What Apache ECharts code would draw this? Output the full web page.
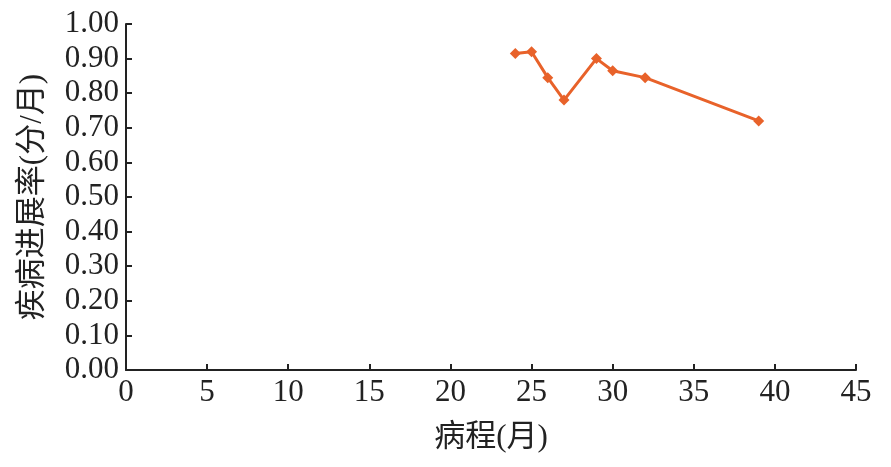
<!DOCTYPE html>
<html>
<head>
<meta charset="utf-8">
<script src="https://cdn.jsdelivr.net/npm/echarts@6/dist/echarts.min.js"></script>
<style>html,body{margin:0;padding:0;background:#fff}#c{width:891px;height:467px}</style>
</head>
<body>
<div id="c"></div>
<script>
const months = [24, 25, 26, 27, 29, 30, 32, 39];
const rates = [0.915, 0.92, 0.845, 0.78, 0.90, 0.865, 0.845, 0.72];
const xTitle = '病程(月)';
const yTitle = '疾病进展率(分/月)';
const FONT = "'Liberation Serif', 'Noto Sans CJK SC', serif";

const chart = echarts.init(document.getElementById('c'), null, {renderer: 'canvas'});
chart.setOption({
  animation: false,
  backgroundColor: '#fff',
  grid: {left: 126, right: 35, top: 24, bottom: 97, containLabel: false},
  xAxis: {
    type: 'value', min: 0, max: 45, interval: 5,
    name: xTitle, nameLocation: 'middle', nameGap: 52,
    nameTextStyle: {fontFamily: FONT, fontSize: 31, color: '#222'},
    axisLine: {show: true, lineStyle: {color: '#222', width: 2}},
    axisTick: {show: true, inside: true, length: 6, lineStyle: {color: '#222', width: 2}},
    axisLabel: {fontFamily: FONT, fontSize: 31, color: '#222', margin: 7},
    splitLine: {show: false}
  },
  yAxis: {
    type: 'value', min: 0, max: 1, interval: 0.1,
    name: yTitle, nameLocation: 'middle', nameGap: 78, nameRotate: 90,
    nameTextStyle: {fontFamily: FONT, fontSize: 31, color: '#222'},
    axisLine: {show: true, lineStyle: {color: '#222', width: 2}},
    axisTick: {show: true, inside: true, length: 6, lineStyle: {color: '#222', width: 2}},
    axisLabel: {fontFamily: FONT, fontSize: 31, color: '#222', margin: 7,
      formatter: v => v.toFixed(2)},
    splitLine: {show: false}
  },
  series: [{
    type: 'line',
    data: months.map((m, i) => [m, rates[i]]),
    symbol: 'diamond', symbolSize: 11,
    lineStyle: {color: '#E8622A', width: 3},
    itemStyle: {color: '#E8622A'}
  }]
});
</script>
</body>
</html>
